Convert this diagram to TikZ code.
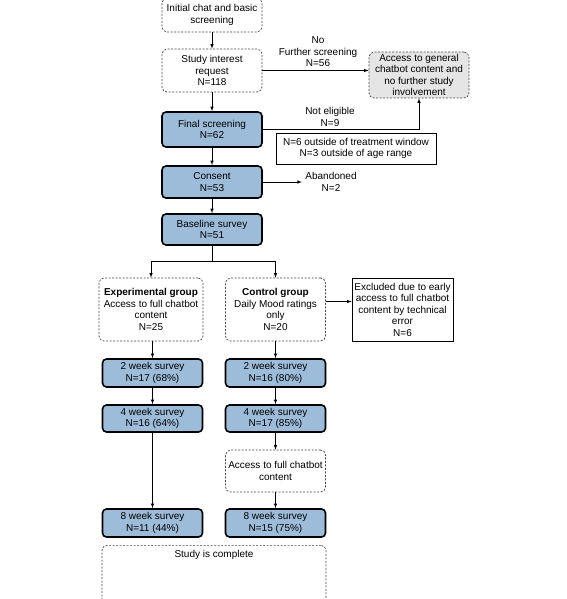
\documentclass[tikz,border=0pt]{standalone}
\usepackage{fontspec}
\setmainfont{Liberation Sans}
\usepackage{tikz}
\usetikzlibrary{calc}

\definecolor{surveyblue}{RGB}{157,188,217}
\definecolor{exitgray}{RGB}{229,229,229}
\definecolor{dashgray}{RGB}{70,70,70}

\begin{document}
\begin{tikzpicture}[x=1pt,y=-1pt,>=latex,
	every node/.style={font=\fontsize{10}{11.5}\selectfont,align=center},
	openbox/.style={draw=dashgray,line width=0.7pt,dash pattern=on 2pt off 1.5pt,rounded corners=5pt,minimum width=100,inner sep=2pt},
	surveybox/.style={draw=black,line width=1.6pt,fill=surveyblue,rounded corners=4pt,minimum width=100,inner sep=2pt},
	notebox/.style={draw=black,line width=0.6pt,inner sep=2pt},
	flow/.style={->,line width=0.6pt}]
	\useasboundingbox (0,0) rectangle (566,599);

	%the screening column
	\node[openbox,minimum height=34] (init) at (212,15) {Initial chat and basic\\screening};
	\node[openbox,minimum height=43] (interest) at (212,70.5) {Study interest\\request\\N=118};
	\node[surveybox,minimum height=35] (final) at (212,129.5) {Final screening\\N=62};
	\node[surveybox,minimum height=32] (consent) at (212,182) {Consent\\N=53};
	\node[surveybox,minimum height=31] (baseline) at (212,229.5) {Baseline survey\\N=51};

	%the ones who leave
	\node[openbox,fill=exitgray,minimum height=46] (general) at (419,75) {Access to general\\chatbot content and\\no further study\\involvement};
	\node (nofurther) at (318,52) {No\\Further screening\\N=56};
	\node (noteligible) at (330,117) {Not eligible\\N=9};
	\node[notebox,minimum width=160,minimum height=31] (reasons) at (356,148.5) {N=6 outside of treatment window\\N=3 outside of age range};
	\node (abandoned) at (331,182) {Abandoned\\N=2};

	\draw[flow] (init) -- (interest);
	\draw[flow] (interest) -- (final);
	\draw[flow] (final) -- (consent);
	\draw[flow] (consent) -- (baseline);
	\draw[flow] (interest.east) -- (interest.east -| general.west);
	\draw[flow] (final.east) -| (general.south);
	\draw[flow] (consent.east) -- (abandoned.west);

	%the two groups
	\coordinate (split) at (212,261);
	\node[openbox,minimum width=104,minimum height=63] (expgrp) at (151,309.5) {\textbf{Experimental group}\\Access to full chatbot\\content\\N=25};
	\node[openbox,minimum height=63] (ctrlgrp) at (275.5,309.5) {\textbf{Control group}\\Daily Mood ratings\\only\\N=20};
	\node[notebox,minimum width=101,minimum height=63] (excluded) at (402.5,309.5) {Excluded due to early\\access to full chatbot\\content by technical\\error\\N=6};
	\draw[line width=0.6pt] (baseline) -- (split);
	\draw[flow] (split) -| (expgrp.north);
	\draw[flow] (split) -| (ctrlgrp.north);
	\draw[flow] ([yshift=8pt]ctrlgrp.east) -- ([yshift=8pt]ctrlgrp.east -| excluded.west);

	%the follow up surveys
	\node[surveybox,minimum height=28] (exptwo) at (152.5,373) {2 week survey\\N=17 (68\%)};
	\node[surveybox,minimum height=28] (ctrltwo) at (275.5,373) {2 week survey\\N=16 (80\%)};
	\node[surveybox,minimum height=27] (expfour) at (152.5,418.5) {4 week survey\\N=16 (64\%)};
	\node[surveybox,minimum height=27] (ctrlfour) at (275.5,418.5) {4 week survey\\N=17 (85\%)};
	\node[openbox,minimum height=42] (access) at (275.5,471) {Access to full chatbot\\content};
	\node[surveybox,minimum height=28] (expeight) at (152.5,523) {8 week survey\\N=11 (44\%)};
	\node[surveybox,minimum height=28] (ctrleight) at (275.5,523) {8 week survey\\N=15 (75\%)};
	\node[openbox,anchor=north,minimum width=224,text height=10,text depth=48] (complete) at (214,545) {Study is complete};

	\draw[flow] (expgrp.south -| exptwo) -- (exptwo);
	\draw[flow] (exptwo) -- (expfour);
	\draw[flow] (expfour) -- (expeight);
	\draw[flow] (ctrlgrp) -- (ctrltwo);
	\draw[flow] (ctrltwo) -- (ctrlfour);
	\draw[flow] (ctrlfour) -- (access);
	\draw[flow] (access) -- (ctrleight);
\end{tikzpicture}
\end{document}
